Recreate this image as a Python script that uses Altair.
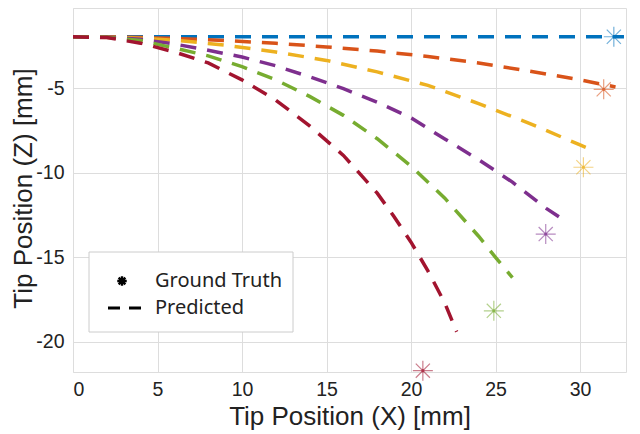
import altair as alt
import pandas as pd

# ---------------- data ----------------
series = ["1", "2", "3", "4", "5", "6"]
colors = ["#0072BD", "#D95319", "#EDB120", "#7E2F8E", "#77AC30", "#A2142F"]

pred_x_1 = [0, 32.6]
pred_z_1 = [-1.95, -1.95]

pred_x_2 = [0, 3, 6, 9, 12, 15, 18, 21, 24, 27, 30, 32.1]
pred_z_2 = [-1.95, -1.97, -2.05, -2.17, -2.34, -2.55, -2.8, -3.12, -3.5, -3.98, -4.5, -4.92]

pred_x_3 = [0, 3, 6, 9, 12, 15, 18, 21, 24, 27, 30, 30.9]
pred_z_3 = [-1.95, -2.0, -2.15, -2.45, -2.85, -3.35, -4.03, -4.83, -5.9, -7.07, -8.35, -8.72]

pred_x_4 = [0, 2, 4, 6, 8, 10, 12, 14, 16, 18, 20, 22, 24, 26, 28, 28.75]
pred_z_4 = [-1.95, -1.98, -2.1, -2.38, -2.75, -3.15, -3.67, -4.32, -5.02, -5.82, -6.75, -8.0, -9.22, -10.55, -12.1, -12.6]

pred_x_5 = [0, 2, 4, 6, 8, 10, 12, 14, 16, 18, 20, 22, 24, 25, 26]
pred_z_5 = [-1.95, -1.98, -2.17, -2.62, -3.08, -3.72, -4.5, -5.48, -6.6, -7.98, -9.6, -11.5, -13.75, -15.0, -16.2]

pred_x_6 = [0, 2, 4, 6, 8, 10, 12, 14, 16, 18, 19, 20, 21, 22, 22.7]
pred_z_6 = [-1.95, -2.0, -2.33, -2.85, -3.5, -4.5, -5.7, -7.22, -8.97, -11.2, -12.6, -14.1, -15.8, -17.7, -19.4]

gt_x = [32.0, 31.4, 30.2, 27.97, 24.9, 20.7]
gt_z = [-1.95, -5.06, -9.67, -13.62, -18.16, -21.7]

x_ticks = [0, 5, 10, 15, 20, 25, 30]
y_ticks = [-20, -15, -10, -5]
x_title = "Tip Position (X) [mm]"
y_title = "Tip Position (Z) [mm]"
legend_labels = ["Ground Truth", "Predicted"]

# ---------------- tables ----------------
pred_xs = [pred_x_1, pred_x_2, pred_x_3, pred_x_4, pred_x_5, pred_x_6]
pred_zs = [pred_z_1, pred_z_2, pred_z_3, pred_z_4, pred_z_5, pred_z_6]
rows = []
for s, xs, zs in zip(series, pred_xs, pred_zs):
    for i, (xv, zv) in enumerate(zip(xs, zs)):
        rows.append({"s": s, "x": xv, "z": zv, "i": i})
pred_df = pd.DataFrame(rows)
gt_df = pd.DataFrame({"s": series, "x": gt_x, "z": gt_z})

ASTERISK = "M-1,0L1,0M0,-1L0,1M-0.707,-0.707L0.707,0.707M-0.707,0.707L0.707,-0.707"
AXFONT = "DejaVu Sans"

xscale = alt.Scale(domain=[0, 32.72], nice=False, zero=False)
yscale = alt.Scale(domain=[-21.78, -0.25], nice=False, zero=False)
cscale = alt.Scale(domain=series, range=colors)

xaxis = alt.Axis(values=x_ticks, title=x_title, grid=True, ticks=False, domain=False,
                 labelExpr="'' + datum.value",
                 labelFontSize=19.5, labelPadding=8, labelColor="#222222",
                 titleFontSize=26, titleFontWeight="normal", titleColor="#222222",
                 titleX=276.5, titleY=44, titleBaseline="middle")
yaxis = alt.Axis(values=y_ticks, title=y_title, grid=True, ticks=False, domain=False,
                 labelExpr="'' + datum.value",
                 labelFontSize=19.5, labelPadding=9, labelColor="#222222",
                 titleFontSize=26, titleFontWeight="normal", titleColor="#222222",
                 titleX=-50, titleY=180, titleBaseline="middle", titleAngle=270)

lines = alt.Chart(pred_df).mark_line(strokeWidth=3.5, strokeDash=[16, 11]).encode(
    x=alt.X("x:Q", scale=xscale, axis=xaxis),
    y=alt.Y("z:Q", scale=yscale, axis=yaxis),
    color=alt.Color("s:N", scale=cscale, legend=None),
    detail="s:N",
    order="i:Q",
)

stars = alt.Chart(gt_df).mark_point(shape=ASTERISK, size=400, filled=False,
                                    strokeWidth=1.2, opacity=0.55).encode(
    x=alt.X("x:Q", scale=xscale),
    y=alt.Y("z:Q", scale=yscale),
    color=alt.Color("s:N", scale=cscale, legend=None),
)
dots = alt.Chart(gt_df).mark_point(shape="circle", size=10, filled=True, opacity=0.7).encode(
    x=alt.X("x:Q", scale=xscale),
    y=alt.Y("z:Q", scale=yscale),
    color=alt.Color("s:N", scale=cscale, legend=None),
)

one = pd.DataFrame({"a": [0]})
leg_box = alt.Chart(one).mark_rect(fill="white", stroke="#cccccc", strokeWidth=1).encode(
    x=alt.value(16), x2=alt.value(220), y=alt.value(244), y2=alt.value(324))
leg_star = alt.Chart(one).mark_point(shape=ASTERISK, size=90, filled=False,
                                     strokeWidth=2.4, color="black", opacity=1).encode(
    x=alt.value(49), y=alt.value(273))
leg_dash = alt.Chart(one).mark_rule(color="black", strokeWidth=3, strokeDash=[12, 9]).encode(
    x=alt.value(35), x2=alt.value(68), y=alt.value(300))
leg_t1 = alt.Chart(one).mark_text(align="left", baseline="middle", fontSize=20,
                                  font="Noto Sans", color="#222222").encode(
    x=alt.value(82), y=alt.value(273), text=alt.value(legend_labels[0]))
leg_t2 = alt.Chart(one).mark_text(align="left", baseline="middle", fontSize=20,
                                  font="Noto Sans", color="#222222").encode(
    x=alt.value(82), y=alt.value(300), text=alt.value(legend_labels[1]))

chart = alt.layer(lines, stars, dots, leg_box, leg_star, leg_dash, leg_t1, leg_t2).properties(
    width=553, height=364,
    autosize=alt.AutoSizeParams(type="none"),
    padding={"left": 65, "top": 0, "right": 6, "bottom": 62},
).configure_view(
    stroke="black", strokeWidth=2
).configure_axis(
    gridColor="#e6e6e6", gridWidth=1, labelFont=AXFONT, titleFont=AXFONT
).configure(background="white")

chart.save("out.html", embed_options={"renderer": "svg", "actions": False})
